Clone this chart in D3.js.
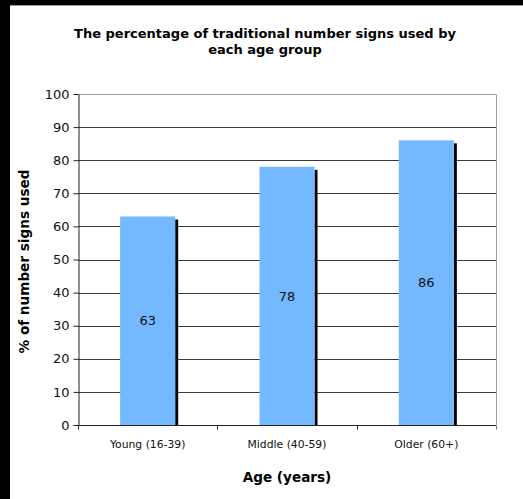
<!DOCTYPE html>
<html>
<head>
<meta charset="utf-8">
<script src="https://cdn.jsdelivr.net/npm/d3@7"></script>
<style>
  body { margin: 0; background: #000; }
  svg { display: block; font-family: "DejaVu Sans", Verdana, sans-serif; }
</style>
</head>
<body>
<div class="chart"></div>
<script>
const categories = ["Young (16-39)", "Middle (40-59)", "Older (60+)"];
const values = [63, 78, 86];
const yTicks = [0, 10, 20, 30, 40, 50, 60, 70, 80, 90, 100];
const titleLines = ["The percentage of traditional number signs used by", "each age group"];

const W = 523, H = 499;
const margin = {top: 94, right: 27, bottom: 74, left: 78};

const svg = d3.select(".chart")
    .append("svg")
    .attr("width", W)
    .attr("height", H);

// white card with black edge top/left
svg.append("rect")
    .attr("x", 10).attr("y", 5)
    .attr("width", W - 10).attr("height", H - 5)
    .attr("fill", "white");
svg.append("line")
    .attr("x1", 10).attr("x2", W)
    .attr("y1", 5.5).attr("y2", 5.5)
    .attr("stroke", "#999");

const x = d3.scaleBand()
    .domain(categories)
    .range([margin.left, W - margin.right])
    .paddingInner(0.605)
    .paddingOuter(0.3025);

const y = d3.scaleLinear()
    .domain([0, 100])
    .range([H - margin.bottom, margin.top]);

// gridlines
svg.append("g")
  .selectAll("line")
  .data(yTicks.filter(d => d > 0 && d < 100))
  .join("line")
    .attr("x1", margin.left).attr("x2", W - margin.right)
    .attr("y1", d => Math.round(y(d)) + 0.5)
    .attr("y2", d => Math.round(y(d)) + 0.5)
    .attr("stroke", "#3a3a3a");

// top and right border, light gray
svg.append("path")
    .attr("d", `M${margin.left},${Math.round(y(100)) + 0.5}H${W - margin.right + 0.5}V${Math.round(y(0))}`)
    .attr("fill", "none")
    .attr("stroke", "#a0a0a0");

// bars with dark shadow
const bars = svg.append("g")
  .selectAll("g")
  .data(categories.map((c, i) => ({cat: c, v: values[i]})))
  .join("g");

bars.append("rect")
    .attr("x", d => x(d.cat) + x.bandwidth())
    .attr("y", d => y(d.v) + 3)
    .attr("width", 3)
    .attr("height", d => y(0) - y(d.v) - 3)
    .attr("fill", "#000");

bars.append("rect")
    .attr("x", d => x(d.cat))
    .attr("y", d => y(d.v))
    .attr("width", x.bandwidth())
    .attr("height", d => y(0) - y(d.v))
    .attr("fill", "#74b8ff");

bars.append("text")
    .attr("x", d => x(d.cat) + x.bandwidth() / 2)
    .attr("y", d => (y(d.v) + y(0)) / 2)
    .attr("dy", "0.36em")
    .attr("text-anchor", "middle")
    .attr("font-size", 13)
    .attr("fill", "#111")
    .text(d => d.v);

// y axis
svg.append("g")
    .attr("transform", `translate(${margin.left + 0.5},0)`)
    .call(d3.axisLeft(y).tickValues(yTicks).tickSize(5).tickSizeOuter(0).tickPadding(4))
    .call(g => g.select(".domain").attr("stroke", "#222"))
    .call(g => g.selectAll(".tick line").attr("stroke", "#222"))
    .call(g => g.selectAll(".tick text")
        .attr("font-size", 13)
        .attr("font-family", "DejaVu Sans, Verdana, sans-serif")
        .attr("fill", "#111"));

// x axis
const step = x.step();
const bounds = [0, 1, 2, 3].map(i => margin.left + i * step);
const xg = svg.append("g")
    .attr("transform", `translate(0,${Math.round(y(0)) + 0.5})`);
xg.append("line")
    .attr("x1", margin.left).attr("x2", W - margin.right)
    .attr("stroke", "#222");
xg.selectAll(".bt")
  .data(bounds)
  .join("line")
    .attr("class", "bt")
    .attr("x1", d => Math.round(d) + 0.5).attr("x2", d => Math.round(d) + 0.5)
    .attr("y1", 0).attr("y2", 4)
    .attr("stroke", (d, i) => i === 3 ? "#777" : "#222");
xg.selectAll("text")
  .data(categories)
  .join("text")
    .attr("x", d => x(d) + x.bandwidth() / 2)
    .attr("y", 22)
    .attr("text-anchor", "middle")
    .attr("font-size", 10.8)
    .attr("fill", "#111")
    .text(d => d);

// axis titles
svg.append("text")
    .attr("x", (margin.left + W - margin.right) / 2)
    .attr("y", 482)
    .attr("text-anchor", "middle")
    .attr("font-size", 13.6)
    .attr("font-weight", "bold")
    .text("Age (years)");

svg.append("text")
    .attr("transform", `translate(29,${(y(0) + y(100)) / 2 + 2}) rotate(-90)`)
    .attr("text-anchor", "middle")
    .attr("font-size", 13.6)
    .attr("font-weight", "bold")
    .text("% of number signs used");

// title
svg.append("text")
    .attr("text-anchor", "middle")
    .attr("font-size", 13)
    .attr("font-weight", "bold")
  .selectAll("tspan")
  .data(titleLines)
  .join("tspan")
    .attr("x", 265)
    .attr("y", (d, i) => 38 + i * 16)
    .text(d => d);
</script>
</body>
</html>
